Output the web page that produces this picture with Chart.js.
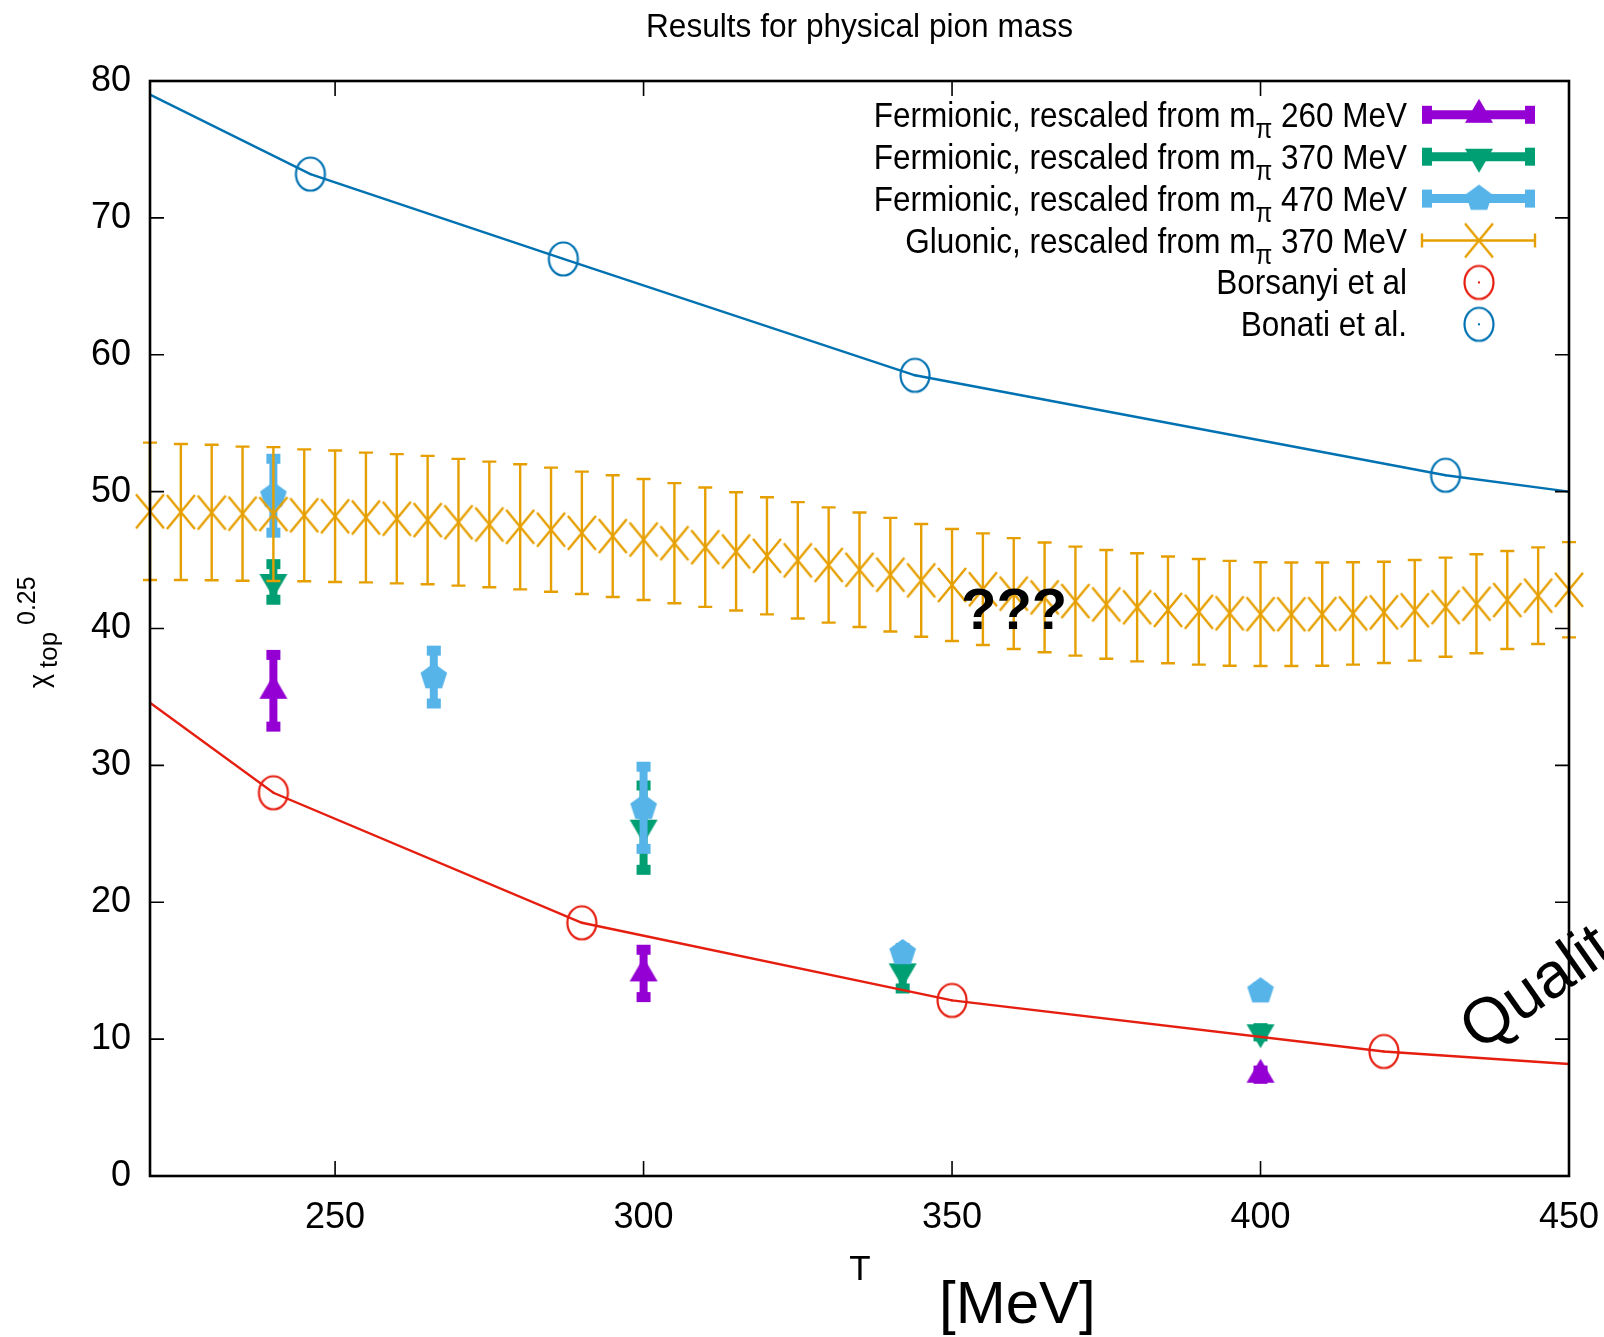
<!DOCTYPE html>
<html>
<head>
<meta charset="utf-8">
<title>Results for physical pion mass</title>
<script src="https://cdn.jsdelivr.net/npm/chart.js@4.4.1/dist/chart.umd.min.js"></script>
<style>
  body { margin: 0; background: #fff; }
  canvas { display: block; }
</style>
</head>
<body>
<canvas id="chiChart" width="1604" height="1337"></canvas>
<script>
// axis ticks
const tTicks = [250, 300, 350, 400, 450];
const chiTicks = [0, 10, 20, 30, 40, 50, 60, 70, 80];

// fermionic results, rescaled from three pion masses
const ferm260T = [240, 300, 400];
const ferm260Chi = [35.45, 14.8, 7.4];
const ferm260Err = [2.62, 1.73, 0.3];

const ferm370T = [240, 300, 342, 400];
const ferm370Chi = [43.4, 25.45, 14.95, 10.5];
const ferm370Err = [1.3, 3.08, 1.25, 0.3];

const ferm470T = [240, 266, 300, 342, 400];
const ferm470Chi = [49.7, 36.45, 26.9, 16.3, 13.5];
const ferm470Err = [2.7, 1.93, 3.0, 0.35, 0.3];

// gluonic band
const gluonT = [220, 225, 230, 235, 240, 245, 250, 255, 260, 265, 270, 275, 280, 285, 290, 295,
                300, 305, 310, 315, 320, 325, 330, 335, 340, 345, 350, 355, 360, 365, 370, 375,
                380, 385, 390, 395, 400, 405, 410, 415, 420, 425, 430, 435, 440, 445, 450];
const gluonChi = [48.56, 48.51, 48.47, 48.39, 48.36, 48.27, 48.20, 48.11, 48.02, 47.92, 47.76, 47.60,
                  47.43, 47.22, 46.99, 46.75, 46.50, 46.23, 45.94, 45.63, 45.31, 44.98, 44.64, 44.29,
                  43.93, 43.52, 43.18, 42.87, 42.55, 42.27, 42.00, 41.76, 41.55, 41.36, 41.22, 41.11,
                  41.05, 41.04, 41.05, 41.10, 41.18, 41.33, 41.56, 41.81, 42.08, 42.40, 42.83];
const gluonErr = [5.02, 4.97, 4.95, 4.90, 4.89, 4.82, 4.80, 4.74, 4.72, 4.69, 4.63, 4.59,
                  4.57, 4.53, 4.47, 4.45, 4.42, 4.39, 4.36, 4.32, 4.28, 4.25, 4.21, 4.18,
                  4.15, 4.12, 4.09, 4.08, 4.05, 4.01, 3.98, 3.97, 3.95, 3.90, 3.86, 3.83,
                  3.79, 3.78, 3.77, 3.74, 3.70, 3.68, 3.62, 3.62, 3.58, 3.53, 3.48];

// Borsanyi et al
const borsT = [240, 290, 350, 420];
const borsChi = [28.0, 18.5, 12.83, 9.1];
const borsCurveT = [220, 240, 290, 350, 420, 450];
const borsCurve = [34.57, 28.0, 18.5, 12.83, 9.1, 8.18];

// Bonati et al.
const bonaT = [246, 287, 344, 430];
const bonaChi = [73.2, 67.0, 58.5, 51.2];
const bonaCurveT = [220, 246, 287, 344, 430, 450];
const bonaCurve = [79.0, 73.2, 67.0, 58.5, 51.2, 50.0];

const purple = '#9400d3';
const green = '#009e73';
const skyblue = '#56b4e9';
const orange = '#e69f00';
const red = '#e51e10';
const blue = '#0072b2';

const narrow = '"Liberation Sans Narrow", "Liberation Sans", Arial, sans-serif';
const plain = '"Liberation Sans", Arial, sans-serif';

// point symbols, drawn once onto small canvases
function marker(w, h, draw) {
    const c = document.createElement('canvas');
    c.width = w;
    c.height = h;
    draw(c.getContext('2d'), w / 2, h / 2);
    return c;
}

function triangle(color, down) {
    return marker(30, 34, (g, cx, cy) => {
        const s = down ? -1 : 1;
        g.fillStyle = color;
        g.beginPath();
        g.moveTo(cx, cy - 16 * s);
        g.lineTo(cx + 14, cy + 8 * s);
        g.lineTo(cx - 14, cy + 8 * s);
        g.closePath();
        g.fill();
    });
}

function pentagon(color) {
    return marker(30, 30, (g, cx, cy) => {
        g.fillStyle = color;
        g.beginPath();
        for (let k = 0; k < 5; k++) {
            const a = -Math.PI / 2 + k * 2 * Math.PI / 5;
            g.lineTo(cx + 14 * Math.cos(a), cy + 14 * Math.sin(a));
        }
        g.closePath();
        g.fill();
    });
}

function cross(color) {
    return marker(32, 38, (g, cx, cy) => {
        g.strokeStyle = color;
        g.lineWidth = 2.4;
        g.beginPath();
        g.moveTo(cx - 14, cy - 17);
        g.lineTo(cx + 14, cy + 17);
        g.moveTo(cx + 14, cy - 17);
        g.lineTo(cx - 14, cy + 17);
        g.stroke();
    });
}

function ring(color) {
    return marker(34, 38, (g, cx, cy) => {
        g.strokeStyle = color;
        g.fillStyle = color;
        g.lineWidth = 2.2;
        g.beginPath();
        g.ellipse(cx, cy, 14.5, 16.5, 0, 0, 2 * Math.PI);
        g.stroke();
        g.fillRect(cx - 1, cy - 1, 2, 2);
    });
}

const pts = (xs, ys) => xs.map((t, i) => ({ x: t, y: ys[i] }));

// vertical error bars, drawn just before each dataset's own points
const errorBars = {
    id: 'errorBars',
    beforeDatasetDraw(chart, args) {
        const ds = chart.data.datasets[args.index];
        if (!ds.errors) return;
        const { ctx, scales: { x, y } } = chart;
        ctx.save();
        ctx.strokeStyle = ds.borderColor;
        ctx.fillStyle = ds.borderColor;
        ds.data.forEach((p, i) => {
            const px = x.getPixelForValue(p.x);
            const top = y.getPixelForValue(p.y + ds.errors[i]);
            const bot = y.getPixelForValue(p.y - ds.errors[i]);
            if (ds.thickBars) {
                ctx.lineWidth = 8;
                ctx.beginPath();
                ctx.moveTo(px, top);
                ctx.lineTo(px, bot);
                ctx.stroke();
                ctx.fillRect(px - 7, top - 5, 14, 10);
                ctx.fillRect(px - 7, bot - 5, 14, 10);
            } else {
                ctx.lineWidth = 2.4;
                ctx.beginPath();
                ctx.moveTo(px, top);
                ctx.lineTo(px, bot);
                ctx.moveTo(px - 7, top);
                ctx.lineTo(px + 7, top);
                ctx.moveTo(px - 7, bot);
                ctx.lineTo(px + 7, bot);
                ctx.stroke();
            }
        });
        ctx.restore();
    }
};

// gnuplot style box with inward ticks on all four sides
const frame = {
    id: 'frame',
    afterDatasetsDraw(chart) {
        const { ctx, chartArea: a, scales: { x, y } } = chart;
        ctx.save();
        ctx.strokeStyle = '#000';
        ctx.lineWidth = 1.6;
        ctx.beginPath();
        tTicks.forEach(v => {
            const px = x.getPixelForValue(v);
            ctx.moveTo(px, a.bottom);
            ctx.lineTo(px, a.bottom - 15);
            ctx.moveTo(px, a.top);
            ctx.lineTo(px, a.top + 15);
        });
        chiTicks.forEach(v => {
            const py = y.getPixelForValue(v);
            ctx.moveTo(a.left, py);
            ctx.lineTo(a.left + 14, py);
            ctx.moveTo(a.right, py);
            ctx.lineTo(a.right - 14, py);
        });
        ctx.stroke();
        ctx.lineWidth = 2.6;
        ctx.strokeRect(a.left, a.top, a.right - a.left, a.bottom - a.top);
        ctx.restore();
    }
};

// key text, right aligned, slightly condensed, with the pion subscript
function keyText(ctx, right, base, label) {
    const parts = label.split('π');
    ctx.save();
    ctx.translate(right, base);
    ctx.scale(0.9, 1);
    ctx.textAlign = 'left';
    ctx.textBaseline = 'alphabetic';
    ctx.font = '35px ' + narrow;
    if (parts.length < 2) {
        ctx.fillText(label, -ctx.measureText(label).width, 0);
        ctx.restore();
        return;
    }
    const wPre = ctx.measureText(parts[0]).width;
    const wPost = ctx.measureText(parts[1]).width;
    ctx.font = '27px ' + narrow;
    const wSub = ctx.measureText('π').width;
    let xp = -(wPost + wSub + wPre);
    ctx.font = '35px ' + narrow;
    ctx.fillText(parts[0], xp, 0);
    xp += wPre;
    ctx.font = '27px ' + narrow;
    ctx.fillText('π', xp, 11);
    xp += wSub;
    ctx.font = '35px ' + narrow;
    ctx.fillText(parts[1], xp, 0);
    ctx.restore();
}

const texts = {
    id: 'texts',
    afterDraw(chart) {
        const ctx = chart.ctx;
        const a = chart.chartArea;
        ctx.save();
        ctx.fillStyle = '#000';

        // title
        ctx.save();
        ctx.translate((a.left + a.right) / 2, 37);
        ctx.scale(0.93, 1);
        ctx.font = '34px ' + narrow;
        ctx.textAlign = 'center';
        ctx.textBaseline = 'alphabetic';
        ctx.fillText('Results for physical pion mass', 0, 0);
        ctx.restore();

        // key
        let base = 126.8;
        chart.data.datasets.forEach(ds => {
            if (!ds.keySymbol) return;
            ctx.fillStyle = '#000';
            keyText(ctx, 1407, base, ds.label);
            const cy = base - 12;
            const x0 = 1422, x1 = 1535, cx = 1479;
            ctx.strokeStyle = ds.borderColor;
            ctx.fillStyle = ds.borderColor;
            if (ds.keySymbol === 'thick') {
                ctx.lineWidth = 9;
                ctx.beginPath();
                ctx.moveTo(x0, cy);
                ctx.lineTo(x1, cy);
                ctx.stroke();
                ctx.fillRect(x0, cy - 9, 10, 18);
                ctx.fillRect(x1 - 10, cy - 9, 10, 18);
            } else if (ds.keySymbol === 'thin') {
                ctx.lineWidth = 2.4;
                ctx.beginPath();
                ctx.moveTo(x0, cy);
                ctx.lineTo(x1, cy);
                ctx.moveTo(x0, cy - 7);
                ctx.lineTo(x0, cy + 7);
                ctx.moveTo(x1, cy - 7);
                ctx.lineTo(x1, cy + 7);
                ctx.stroke();
            }
            const m = ds.pointStyle;
            ctx.drawImage(m, cx - m.width / 2, cy - m.height / 2);
            base += 41.9;
        });

        ctx.fillStyle = '#000';
        // y axis title
        ctx.save();
        ctx.rotate(-Math.PI / 2);
        ctx.textAlign = 'left';
        ctx.font = '27px ' + plain;
        ctx.fillText('χ', -688, 48);
        ctx.font = '26px ' + plain;
        ctx.fillText('top', -668, 57);
        ctx.font = '25px ' + plain;
        ctx.fillText('0.25', -625, 35);
        ctx.restore();

        // x axis title
        ctx.textAlign = 'center';
        ctx.font = '35px ' + narrow;
        ctx.fillText('T', 860, 1280);
        ctx.textAlign = 'left';
        ctx.font = '60px ' + plain;
        ctx.fillText('[MeV]', 939, 1323);

        ctx.font = 'bold 58px ' + plain;
        ctx.fillText('???', 961, 629);

        ctx.save();
        ctx.translate(1479, 1052);
        ctx.rotate(-35 * Math.PI / 180);
        ctx.font = '64px ' + plain;
        ctx.fillText('Qualit', 0, 0);
        ctx.restore();

        ctx.restore();
    }
};

new Chart(document.getElementById('chiChart'), {
    type: 'scatter',
    data: {
        datasets: [
            {
                label: 'Fermionic, rescaled from mπ 260 MeV',
                data: pts(ferm260T, ferm260Chi),
                errors: ferm260Err,
                thickBars: true,
                keySymbol: 'thick',
                borderColor: purple,
                backgroundColor: purple,
                pointStyle: triangle(purple, false),
                pointRadius: 12,
                order: 8,
                clip: false
            },
            {
                label: 'Fermionic, rescaled from mπ 370 MeV',
                data: pts(ferm370T, ferm370Chi),
                errors: ferm370Err,
                thickBars: true,
                keySymbol: 'thick',
                borderColor: green,
                backgroundColor: green,
                pointStyle: triangle(green, true),
                pointRadius: 12,
                order: 7,
                clip: false
            },
            {
                label: 'Fermionic, rescaled from mπ 470 MeV',
                data: pts(ferm470T, ferm470Chi),
                errors: ferm470Err,
                thickBars: true,
                keySymbol: 'thick',
                borderColor: skyblue,
                backgroundColor: skyblue,
                pointStyle: pentagon(skyblue),
                pointRadius: 12,
                order: 6,
                clip: false
            },
            {
                label: 'Gluonic, rescaled from mπ 370 MeV',
                data: pts(gluonT, gluonChi),
                errors: gluonErr,
                thickBars: false,
                keySymbol: 'thin',
                borderColor: orange,
                backgroundColor: orange,
                pointStyle: cross(orange),
                pointRadius: 12,
                order: 5,
                clip: false
            },
            {
                label: 'Borsanyi et al curve',
                data: pts(borsCurveT, borsCurve),
                showLine: true,
                borderColor: red,
                borderWidth: 2.4,
                pointRadius: 0,
                order: 4
            },
            {
                label: 'Borsanyi et al',
                data: pts(borsT, borsChi),
                keySymbol: 'point',
                borderColor: red,
                backgroundColor: red,
                pointStyle: ring(red),
                pointRadius: 12,
                order: 3,
                clip: false
            },
            {
                label: 'Bonati et al. curve',
                data: pts(bonaCurveT, bonaCurve),
                showLine: true,
                borderColor: blue,
                borderWidth: 2.4,
                pointRadius: 0,
                order: 2
            },
            {
                label: 'Bonati et al.',
                data: pts(bonaT, bonaChi),
                keySymbol: 'point',
                borderColor: blue,
                backgroundColor: blue,
                pointStyle: ring(blue),
                pointRadius: 12,
                order: 1,
                clip: false
            }
        ]
    },
    options: {
        responsive: false,
        animation: false,
        events: [],
        layout: { padding: { top: 81, right: 35, left: 0, bottom: 0 } },
        plugins: {
            legend: { display: false },
            tooltip: { enabled: false },
            title: { display: false }
        },
        scales: {
            x: {
                type: 'linear',
                min: 220,
                max: 450,
                // ticks are drawn inside the box by the frame plugin; tickLength only spaces the labels
                grid: { display: false, drawTicks: true, tickLength: 20 },
                border: { display: false },
                afterBuildTicks: s => { s.ticks = tTicks.map(v => ({ value: v })); },
                afterFit: s => { s.height = 161; },
                ticks: {
                    autoSkip: false,
                    maxRotation: 0,
                    padding: 0,
                    color: '#000',
                    font: { family: narrow, size: 36 }
                }
            },
            y: {
                type: 'linear',
                min: 0,
                max: 80,
                grid: { display: false, drawTicks: true, tickLength: 19 },
                border: { display: false },
                afterBuildTicks: s => { s.ticks = chiTicks.map(v => ({ value: v })); },
                afterFit: s => { s.width = 150; },
                ticks: {
                    autoSkip: false,
                    padding: 0,
                    color: '#000',
                    font: { family: narrow, size: 36 }
                }
            }
        }
    },
    plugins: [errorBars, frame, texts]
});
</script>
</body>
</html>
